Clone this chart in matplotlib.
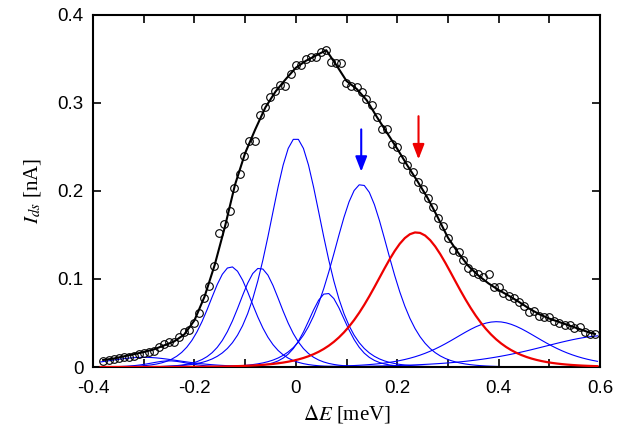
import numpy as np
import matplotlib
matplotlib.use("Agg")
import matplotlib.pyplot as plt

plt.rcParams['mathtext.fontset'] = 'stix'

# measured points (circles)
data_x = [-0.380, -0.368, -0.359, -0.349, -0.339, -0.329, -0.319, -0.309, -0.299, -0.290,
          -0.280, -0.270, -0.260, -0.250, -0.240, -0.230, -0.220, -0.210, -0.200, -0.190,
          -0.181, -0.171, -0.161, -0.151, -0.141, -0.130, -0.121, -0.110, -0.102, -0.092,
          -0.080, -0.071, -0.061, -0.051, -0.041, -0.031, -0.021, -0.010, 0.000, 0.010,
          0.020, 0.029, 0.040, 0.050, 0.059, 0.069, 0.079, 0.089, 0.099, 0.109,
          0.120, 0.130, 0.138, 0.150, 0.160, 0.169, 0.179, 0.189, 0.199, 0.209,
          0.220, 0.231, 0.240, 0.251, 0.260, 0.270, 0.280, 0.291, 0.301, 0.311,
          0.321, 0.330, 0.340, 0.350, 0.360, 0.370, 0.381, 0.390, 0.401, 0.409,
          0.421, 0.430, 0.440, 0.450, 0.460, 0.470, 0.480, 0.490, 0.500, 0.509,
          0.520, 0.530, 0.540, 0.549, 0.561, 0.570, 0.580, 0.590]
data_y = [0.0072, 0.0080, 0.0090, 0.0098, 0.0110, 0.0117, 0.0129, 0.0148, 0.0155, 0.0174,
          0.0180, 0.0230, 0.0260, 0.0288, 0.0280, 0.0345, 0.0400, 0.0420, 0.0504, 0.0610,
          0.0780, 0.0920, 0.1148, 0.1520, 0.1625, 0.1776, 0.2030, 0.2190, 0.2400, 0.2570,
          0.2570, 0.2860, 0.2960, 0.3070, 0.3140, 0.3200, 0.3190, 0.3330, 0.3430, 0.3430,
          0.3500, 0.3520, 0.3520, 0.3580, 0.3600, 0.3470, 0.3450, 0.3450, 0.3230, 0.3190,
          0.3180, 0.3130, 0.3050, 0.2980, 0.2840, 0.2710, 0.2710, 0.2530, 0.2500, 0.2360,
          0.2295, 0.2220, 0.2106, 0.2020, 0.1920, 0.1820, 0.1690, 0.1600, 0.1470, 0.1330,
          0.1310, 0.1216, 0.1130, 0.1080, 0.1060, 0.1025, 0.1057, 0.0905, 0.0910, 0.0845,
          0.0807, 0.0780, 0.0742, 0.0690, 0.0630, 0.0640, 0.0580, 0.0570, 0.0570, 0.0526,
          0.0496, 0.0477, 0.0477, 0.0440, 0.0458, 0.0400, 0.0375, 0.0375]

# total fit (black line)
fit_x = [-0.38, -0.36, -0.34, -0.32, -0.30, -0.28, -0.26, -0.24, -0.22, -0.20,
         -0.18, -0.16, -0.14, -0.12, -0.10, -0.08, -0.06, -0.04, -0.02, 0.00,
         0.02, 0.04, 0.06, 0.08, 0.10, 0.12, 0.14, 0.16, 0.18, 0.20,
         0.22, 0.24, 0.26, 0.28, 0.30, 0.32, 0.34, 0.36, 0.38, 0.40,
         0.42, 0.44, 0.46, 0.48, 0.50, 0.52, 0.54, 0.56, 0.58, 0.59]
fit_y = [0.0080, 0.0095, 0.0120, 0.0145, 0.0170, 0.0200, 0.0245, 0.0290, 0.0370, 0.0530,
         0.0800, 0.1160, 0.1590, 0.2070, 0.2430, 0.2700, 0.2950, 0.3130, 0.3270, 0.3400,
         0.3480, 0.3540, 0.3600, 0.3430, 0.3250, 0.3160, 0.3030, 0.2840, 0.2660, 0.2480,
         0.2290, 0.2110, 0.1920, 0.1700, 0.1470, 0.1300, 0.1150, 0.1040, 0.0950, 0.0875,
         0.0810, 0.0740, 0.0665, 0.0600, 0.0550, 0.0510, 0.0470, 0.0430, 0.0390, 0.0375]

# fitted resonances: thermally broadened peaks, h * sech^2((E - c) / w)
blue_centers = [-0.300, -0.250, -0.128, -0.071, 0.000, 0.061, 0.129, 0.396, 0.620]
blue_heights = [0.011, 0.007, 0.114, 0.1125, 0.260, 0.084, 0.2076, 0.0515, 0.036]
blue_widths = [0.100, 0.050, 0.060, 0.058, 0.070, 0.050, 0.075, 0.117, 0.190]
red_center = 0.238
red_height = 0.153
red_width = 0.110

arrow_blue_x = 0.129
arrow_red_x = 0.242


def peak(e, c, h, w):
    return h / np.cosh((e - c) / w) ** 2


e = np.linspace(-0.385, 0.595, 99)

fig = plt.figure(figsize=(6.26, 4.38), dpi=100)
ax = fig.add_axes([0.1486, 0.1621, 0.8099, 0.8037])

for c, h, w in zip(blue_centers, blue_heights, blue_widths):
    ax.plot(e, peak(e, c, h, w), color='#0000ff', lw=0.8, zorder=2)

ax.plot(e, peak(e, red_center, red_height, red_width), color='#ee0000', lw=1.6, zorder=3)

ax.plot(fit_x, fit_y, color='black', lw=1.5, zorder=4)
ax.plot(data_x, data_y, 'o', mfc='none', mec='black', ms=5.5, mew=0.8, zorder=5)

ax.annotate('', xy=(arrow_blue_x, 0.222), xytext=(arrow_blue_x, 0.27),
            arrowprops=dict(arrowstyle='-|>,head_length=0.9,head_width=0.35',
                            color='#0000ff', lw=1.5, shrinkA=0, shrinkB=0))
ax.annotate('', xy=(arrow_red_x, 0.236), xytext=(arrow_red_x, 0.285),
            arrowprops=dict(arrowstyle='-|>,head_length=0.9,head_width=0.35',
                            color='#ee0000', lw=1.5, shrinkA=0, shrinkB=0))

ax.set_xlim(-0.4, 0.6)
ax.set_ylim(0, 0.4)
ax.set_xticks([-0.4, -0.2, 0, 0.2, 0.4, 0.6])
ax.set_xticklabels(['-0.4', '-0.2', '0', '0.2', '0.4', '0.6'])
ax.set_xticks([-0.3, -0.1, 0.1, 0.3, 0.5], minor=True)
ax.set_yticks([0, 0.1, 0.2, 0.3, 0.4])
ax.set_yticklabels(['0', '0.1', '0.2', '0.3', '0.4'])
for lab in ax.get_xticklabels() + ax.get_yticklabels():
    lab.set_family('Liberation Sans')
    lab.set_fontsize(13.5)
ax.tick_params(which='both', direction='in', top=True, right=True,
               length=6, width=1.2)
ax.tick_params(axis='x', pad=9)
ax.tick_params(axis='y', pad=7)
for sp in ax.spines.values():
    sp.set_linewidth(1.5)

ax.set_xlabel(r'$\Delta E$ [meV]', family='Liberation Serif', fontsize=15, labelpad=5)
ax.set_ylabel(r'$I_{ds}$ [nA]', family='Liberation Serif', fontsize=15, labelpad=10)

fig.savefig('out.png', dpi=100)
